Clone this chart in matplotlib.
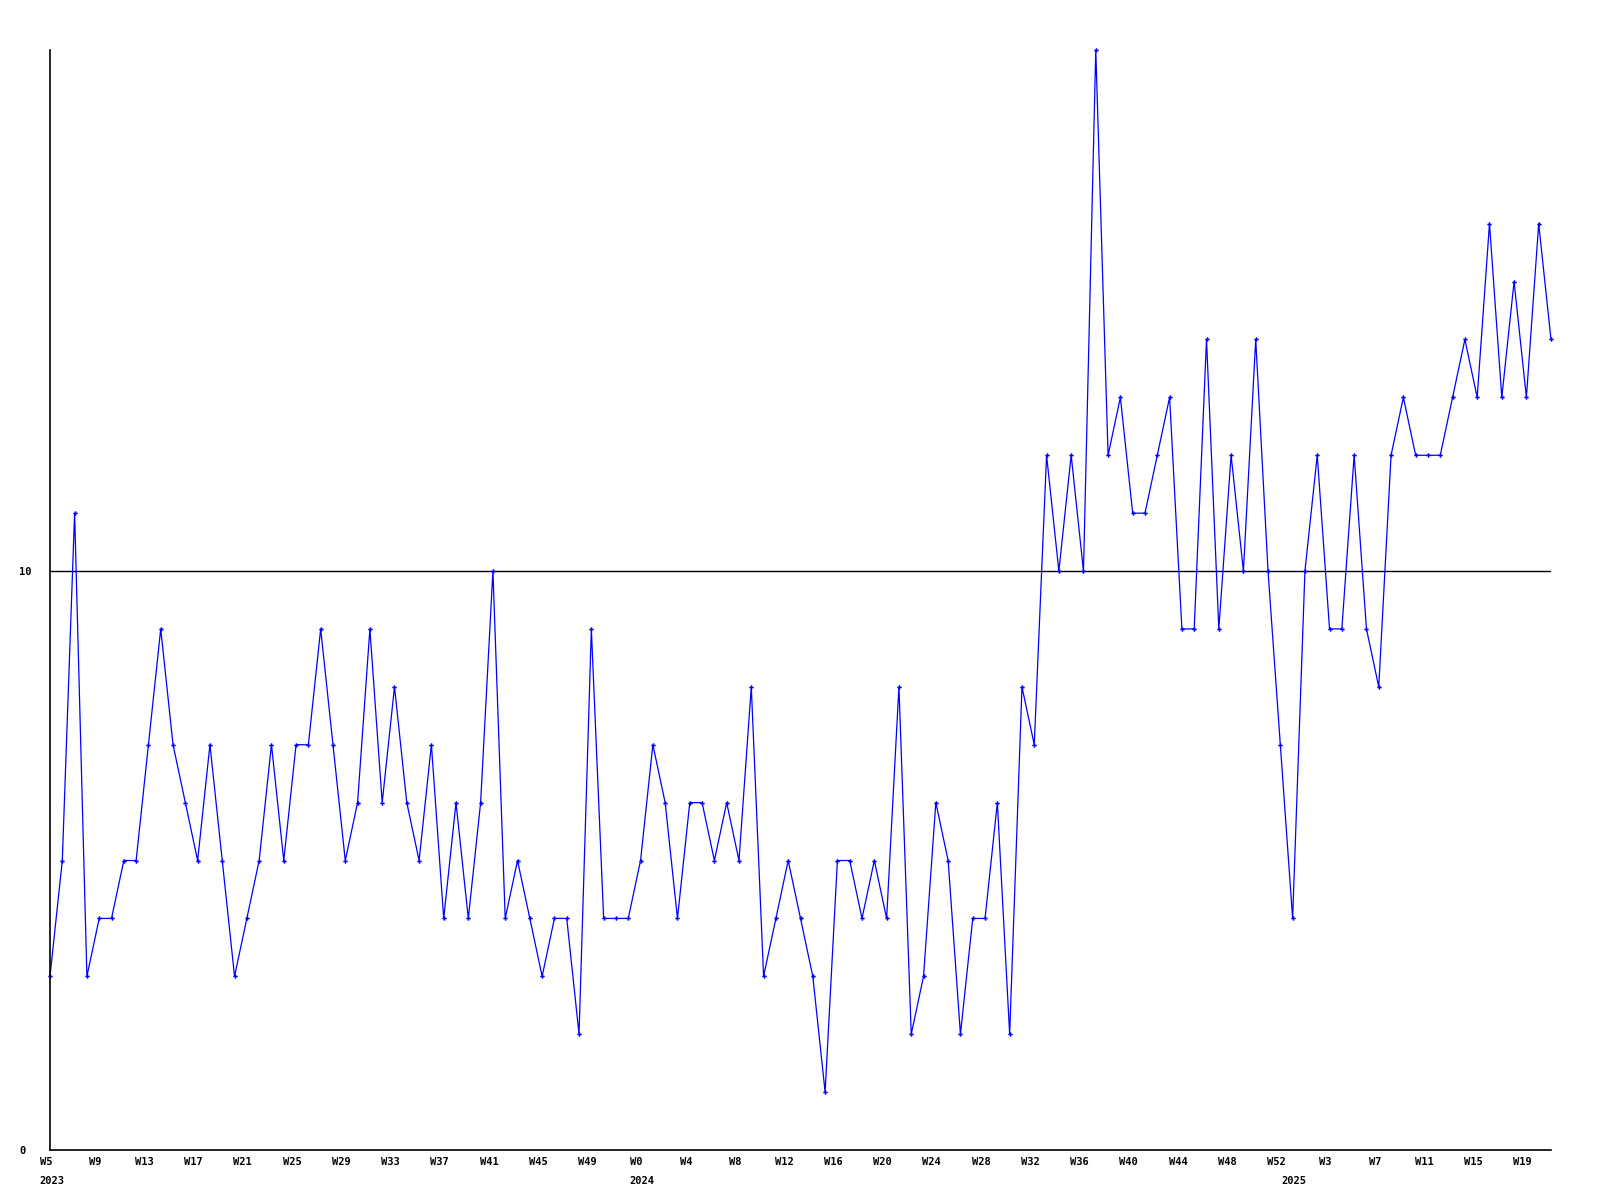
import matplotlib
matplotlib.use("Agg")
import matplotlib.pyplot as plt
import matplotlib.transforms as mtransforms

# weekly counts, 2023-W5 .. 2025-W21
values = [3, 5, 11, 3, 4, 4, 5, 5, 7, 9,
          7, 6, 5, 7, 5, 3, 4, 5, 7, 5,
          7, 7, 9, 7, 5, 6, 9, 6, 8, 6,
          5, 7, 4, 6, 4, 6, 10, 4, 5, 4,
          3, 4, 4, 2, 9, 4, 4, 4, 5, 7,
          6, 4, 6, 6, 5, 6, 5, 8, 3, 4,
          5, 4, 3, 1, 5, 5, 4, 5, 4, 8,
          2, 3, 6, 5, 2, 4, 4, 6, 2, 8,
          7, 12, 10, 12, 10, 19, 12, 13, 11, 11,
          12, 13, 9, 9, 14, 9, 12, 10, 14, 10,
          7, 4, 10, 12, 9, 9, 12, 9, 8, 12,
          13, 12, 12, 12, 13, 14, 13, 16, 13, 15,
          13, 16, 14]

years = [2023, 2024, 2025]
first_week = [5, 0, 0]
last_week = [52, 52, 21]

weeks = []
week_year = []
for y, a, b in zip(years, first_week, last_week):
    for w in range(a, b + 1):
        weeks.append(w)
        week_year.append(y)

xs = list(range(len(values)))

fig = plt.figure(figsize=(16, 12), dpi=100)
ax = fig.add_axes([50 / 1600, 1 - 1150 / 1200, 1501 / 1600, 1100 / 1200])

ax.plot(xs, values, color="#0000ff", lw=0.9, marker="P", ms=3.2, mew=0,
        clip_on=False)
ax.axhline(10, color="black", lw=1.0, zorder=0)

ax.set_xlim(0, len(values) - 1)
ax.set_ylim(0, 19)

for s in ["top", "right"]:
    ax.spines[s].set_visible(False)
for s in ["left", "bottom"]:
    ax.spines[s].set_linewidth(1.2)
    ax.spines[s].set_color("black")

font = dict(family="DejaVu Sans Mono", weight="bold", size=7.5)

ax.set_yticks([0, 10])
ax.set_yticklabels(["0", "10"], ha="left", **font)
ax.tick_params(axis="y", length=0, pad=22)

tick_idx = xs[::4]
ax.set_xticks(tick_idx)
ax.set_xticklabels(["W%d" % weeks[i] for i in tick_idx], **font)
ax.tick_params(axis="x", length=0, pad=5)

# nudge week labels a few pixels left, like the original
shift = mtransforms.ScaledTranslation(-4 / 100, 0, fig.dpi_scale_trans)
for lab in ax.get_xticklabels():
    lab.set_transform(lab.get_transform() + shift)

# year labels under the first week of each year
trans = mtransforms.blended_transform_factory(ax.transData, ax.transAxes)
for i in xs:
    if i == 0 or week_year[i] != week_year[i - 1]:
        ax.annotate(str(week_year[i]), xy=(i, 0), xycoords=trans,
                    xytext=(1, -22), textcoords="offset points",
                    ha="center", va="center", **font)

fig.savefig("out.png", dpi=100, facecolor="white")
